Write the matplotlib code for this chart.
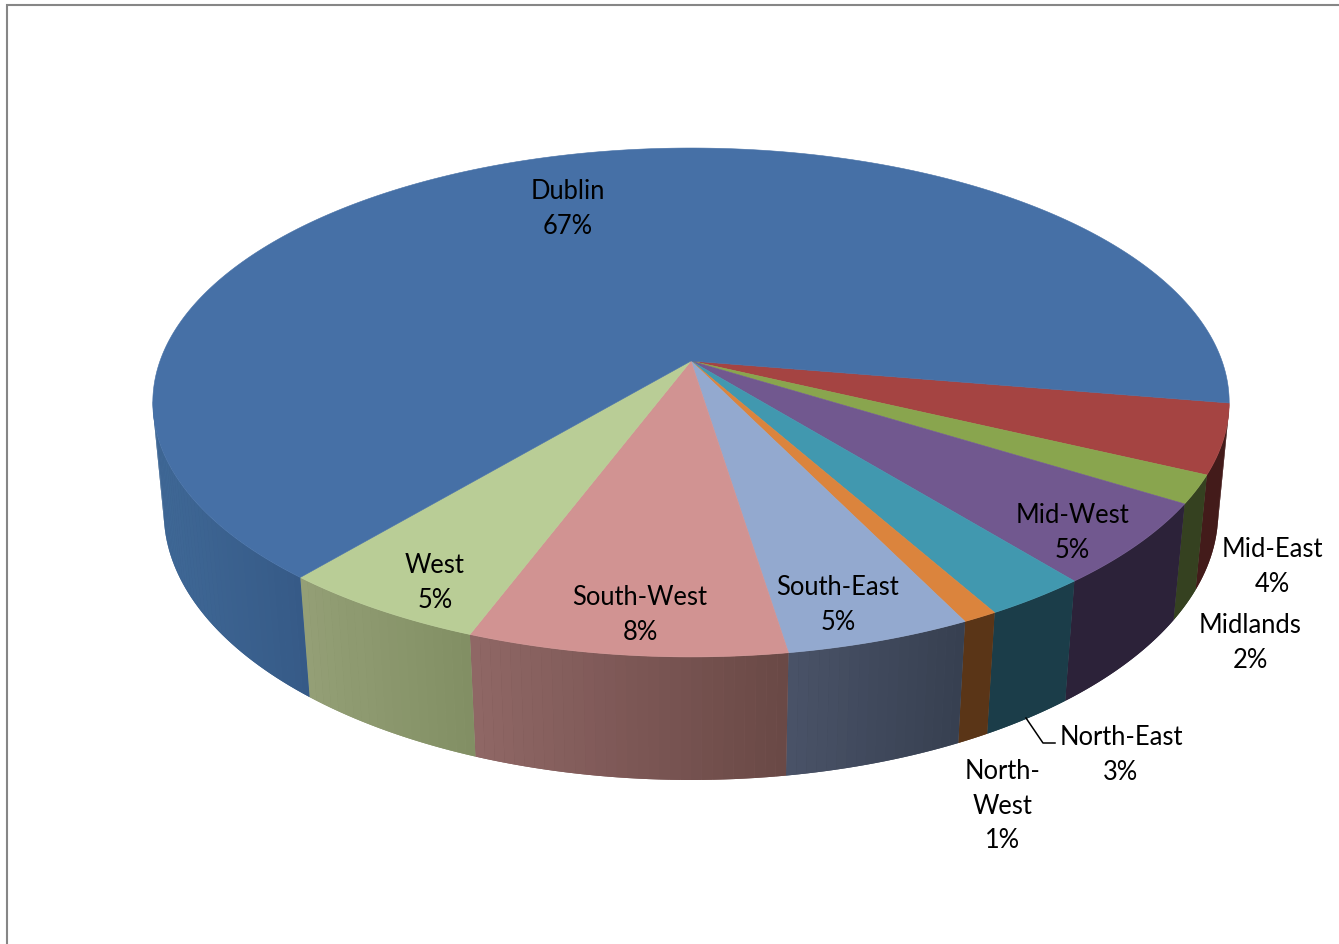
import numpy as np
import matplotlib
matplotlib.use("Agg")
import matplotlib.pyplot as plt
from matplotlib.colors import to_rgb

# slices clockwise on screen, starting from the right hand edge of the pie
regions = ["Mid-East", "Midlands", "Mid-West", "North-East", "North-West",
           "South-East", "South-West", "West", "Dublin"]
shares = [4.4, 1.8, 5.3, 2.7, 0.9, 4.8, 8.2, 5.4, 66.5001]
label_names = ["Mid-East", "Midlands", "Mid-West", "North-East", "North-\nWest",
               "South-East", "South-West", "West", "Dublin"]

top_colors = ["#A54442", "#89A54E", "#71588F", "#4198AF", "#DB843D",
              "#93A9CF", "#D19392", "#B9CD96", "#4670A6"]
wall_left = ["#431b1a", "#354120", "#2c2239", "#1b3d49", "#5a3517",
             "#4a5368", "#906766", "#949f76", "#3f6896"]
wall_right = ["#431b1a", "#354120", "#2c2239", "#1b3d49", "#5a3517",
              "#363f50", "#694845", "#818f63", "#365a87"]
label_pos = [(1272, 567), (1250, 643), (1072, 533), (1121, 755), (1003, 806),
             (838, 605), (640, 615), (435, 583), (568, 209)]

START = 9.5       # degrees, first slice edge
WALL_END = 171.0  # wall is hidden past this angle


def project(theta, cx, cy, a, b, k):
    # circle seen in perspective, near side bigger
    t = np.radians(theta)
    x, y = np.cos(t), np.sin(t)
    d = 1 - k * y
    return cx + a * x / d, cy + b * y / d


def top_rim(theta):
    return project(theta, 691, 361, 531, 247.7, 0.163)


def bottom_rim(theta):
    return project(theta, 691, 470, 520.6, 261, 0.158)


fig = plt.figure(figsize=(13.39, 9.44), dpi=100)
ax = fig.add_axes([0, 0, 1, 1])
ax.set_xlim(0, 1339)
ax.set_ylim(944, 0)
ax.axis("off")

# outer chart border, only top and left are in the picture
ax.plot([7, 7, 1339], [944, 5, 5], color="#868686", lw=1.5, solid_joinstyle="miter")

total = sum(shares)
edges = START + np.cumsum([0] + shares) * 360.0 / total

# side walls
for i in range(len(shares)):
    a0, a1 = edges[i], min(edges[i + 1], WALL_END)
    if a0 >= a1:
        continue
    ts = np.linspace(a0, a1, int(a1 - a0) + 2)
    xt, yt = top_rim(ts)
    xb, yb = bottom_rim(ts)
    c_l, c_r = np.array(to_rgb(wall_left[i])), np.array(to_rgb(wall_right[i]))
    # plain polygon underneath so the strip seams do not show white
    ax.fill(np.r_[xt, xb[::-1]], np.r_[yt, yb[::-1]], color=(c_l + c_r) / 2, lw=0, zorder=2)
    lo, hi = xt.min(), xt.max()
    for j in range(len(ts) - 1):
        f = ((xt[j] + xt[j + 1]) / 2 - lo) / (hi - lo)
        ax.fill([xt[j], xt[j + 1], xb[j + 1], xb[j]], [yt[j], yt[j + 1], yb[j + 1], yb[j]],
                color=c_l + (c_r - c_l) * f, lw=0, zorder=2.1)

# top faces
for i in range(len(shares)):
    ts = np.linspace(edges[i], edges[i + 1], int((edges[i + 1] - edges[i]) * 2) + 2)
    xs, ys = top_rim(ts)
    ax.fill(np.r_[691, xs], np.r_[361, ys], color=top_colors[i], lw=0.4, zorder=3)

# leader line for the North-East label
ax.plot([1026, 1043, 1055], [718, 743, 743], color="black", lw=1.1, zorder=4)

for i in range(len(shares)):
    txt = "%s\n%.0f%%" % (label_names[i], shares[i] / total * 100)
    ax.text(label_pos[i][0], label_pos[i][1], txt, ha="center", va="center",
            family="Lato", fontsize=18.4, color="black", linespacing=1.49, zorder=5)

fig.savefig("out.png", dpi=100, facecolor="white")
